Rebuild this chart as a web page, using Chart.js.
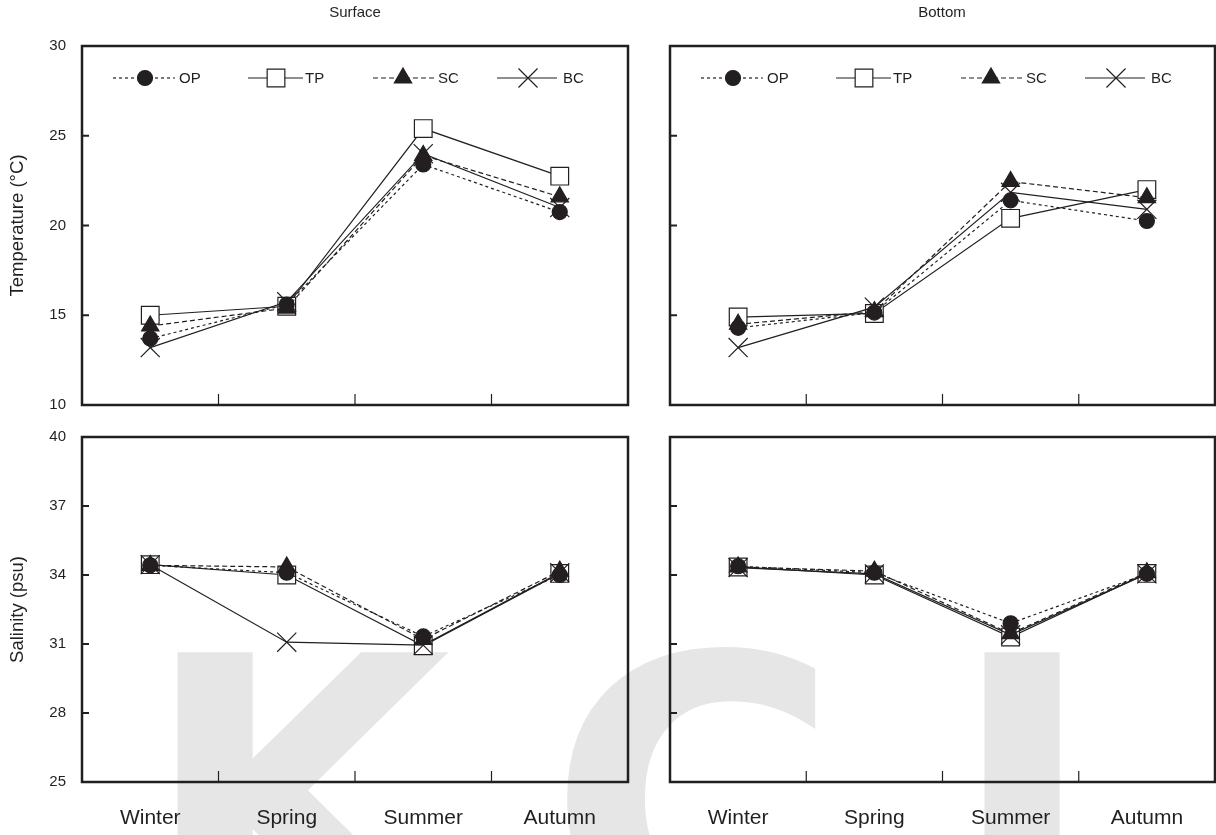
<!DOCTYPE html>
<html>
<head>
<meta charset="utf-8">
<script src="https://cdn.jsdelivr.net/npm/chart.js@4.4.1/dist/chart.umd.min.js"></script>
<style>
html,body{margin:0;padding:0;background:#fff;overflow:hidden}
#wrap{position:relative;width:1216px;height:835px;overflow:hidden;background:#fff}
#wrap canvas{position:absolute;left:0;top:0}
.ptitle{position:absolute;top:3px;font-family:"Liberation Sans",Arial,sans-serif;font-size:15px;line-height:18px;color:#231f20;transform:translateX(-50%);white-space:nowrap}
</style>
</head>
<body>
<div id="wrap">
  <canvas id="cTL" width="1216" height="835"></canvas>
  <canvas id="cTR" width="1216" height="835"></canvas>
  <canvas id="cBL" width="1216" height="835"></canvas>
  <canvas id="cBR" width="1216" height="835"></canvas>
  <div class="ptitle" style="left:355px">Surface</div>
  <div class="ptitle" style="left:942px">Bottom</div>
</div>
<script>
// ---------- data ----------
const seasons = ['Winter', 'Spring', 'Summer', 'Autumn'];
const seriesNames = ['OP', 'TP', 'SC', 'BC'];
const tempTicks = [10, 15, 20, 25, 30];
const salTicks = [25, 28, 31, 34, 37, 40];

const surfTempOP = [13.7, 15.6, 23.4, 20.75];
const surfTempTP = [15.0, 15.5, 25.4, 22.75];
const surfTempSC = [14.4, 15.4, 23.9, 21.6];
const surfTempBC = [13.2, 15.75, 24.0, 21.0];

const botTempOP = [14.3, 15.15, 21.4, 20.25];
const botTempTP = [14.9, 15.1, 20.4, 22.0];
const botTempSC = [14.5, 15.2, 22.45, 21.55];
const botTempBC = [13.2, 15.45, 21.85, 20.9];

const surfSalOP = [34.42, 34.1, 31.33, 34.0];
const surfSalTP = [34.45, 34.0, 30.92, 34.07];
const surfSalSC = [34.42, 34.35, 31.2, 34.17];
const surfSalBC = [34.45, 31.08, 30.95, 34.1];

const botSalOP = [34.38, 34.1, 31.9, 34.05];
const botSalTP = [34.35, 34.0, 31.3, 34.07];
const botSalSC = [34.35, 34.17, 31.45, 34.1];
const botSalBC = [34.32, 34.05, 31.4, 34.05];

// ---------- styles ----------
const INK = '#231f20';
const FONT = '"Liberation Sans", Arial, sans-serif';
const seriesStyle = [
  {dash: [3, 3], pointStyle: 'circle', radius: 7.5, fill: INK, order: 0},
  {dash: [], pointStyle: 'rect', radius: 12.5, fill: '#ffffff', order: 3},
  {dash: [5, 3], pointStyle: 'triangle', radius: 10, fill: INK, order: 1},
  {dash: [], pointStyle: 'crossRot', radius: 13.5, fill: INK, order: 2}
];
const legendSlots = [
  {l: 31, r: 93, m: 63, t: 97},
  {l: 166, r: 221, m: 194, t: 223},
  {l: 291, r: 352, m: 321, t: 356},
  {l: 415, r: 475, m: 446, t: 481}
];
const X_AXIS_H = 53;

function drawMarker(ctx, st, x, y) {
  ctx.save();
  ctx.setLineDash([]);
  ctx.fillStyle = st.fill;
  ctx.strokeStyle = INK;
  ctx.lineWidth = 1.2;
  Chart.helpers.drawPoint(ctx, {pointStyle: st.pointStyle, radius: st.radius, rotation: 0, borderWidth: 1.2}, x, y);
  ctx.restore();
}

const framePlugin = {
  id: 'frame',
  afterDraw(chart) {
    const {ctx, chartArea: a, scales: {x, y}} = chart;
    ctx.save();
    ctx.setLineDash([]);
    ctx.strokeStyle = INK;
    ctx.lineWidth = 2;
    y.ticks.forEach(t => {
      const py = y.getPixelForValue(t.value);
      if (py > a.top + 2 && py < a.bottom - 2) {
        ctx.beginPath(); ctx.moveTo(a.left, py); ctx.lineTo(a.left + 7, py); ctx.stroke();
      }
    });
    ctx.lineWidth = 1.2;
    for (let i = 0; i < seasons.length - 1; i++) {
      const px = (x.getPixelForValue(i) + x.getPixelForValue(i + 1)) / 2;
      ctx.beginPath(); ctx.moveTo(px, a.bottom); ctx.lineTo(px, a.bottom - 11); ctx.stroke();
    }
    ctx.lineWidth = 2.5;
    ctx.strokeRect(a.left, a.top, a.right - a.left, a.bottom - a.top);
    ctx.restore();
  }
};

function makeLegendPlugin(show) {
  return {
    id: 'panelLegend',
    afterDraw(chart) {
      if (!show) return;
      const {ctx, chartArea: a} = chart;
      const cy = a.top + 32;
      ctx.save();
      seriesNames.forEach((name, i) => {
        const st = seriesStyle[i], s = legendSlots[i];
        ctx.strokeStyle = INK; ctx.lineWidth = 1.2; ctx.setLineDash(st.dash);
        ctx.beginPath(); ctx.moveTo(a.left + s.l, cy); ctx.lineTo(a.left + s.r, cy); ctx.stroke();
        drawMarker(ctx, st, a.left + s.m, cy);
        ctx.fillStyle = INK; ctx.font = '15px ' + FONT; ctx.textBaseline = 'middle'; ctx.textAlign = 'left';
        ctx.fillText(name, a.left + s.t, cy + 1);
      });
      ctx.restore();
    }
  };
}

const watermarkPlugin = {
  id: 'watermark',
  beforeDraw(chart) {
    const ctx = chart.ctx;
    ctx.save();
    ctx.fillStyle = '#e6e6e6';
    ctx.font = 'bold 400px "DejaVu Sans"';
    ctx.textBaseline = 'alphabetic';
    ctx.textAlign = 'left';
    const capTop = 650;
    const base = capTop + ctx.measureText('K').actualBoundingBoxAscent;
    [['K', 172], ['C', 566], ['I', 979]].forEach(([ch, left]) => {
      const m = ctx.measureText(ch);
      ctx.fillText(ch, left + m.actualBoundingBoxLeft, base);
    });
    ctx.restore();
  }
};

function makeChart(id, area, tickVals, series, opts) {
  const datasets = series.map((d, i) => {
    const st = seriesStyle[i];
    return {
      label: seriesNames[i], data: d,
      borderColor: INK, borderWidth: 1.2, borderDash: st.dash,
      pointStyle: st.pointStyle, pointRadius: st.radius, pointHoverRadius: st.radius,
      pointBackgroundColor: st.fill, pointBorderColor: INK, pointBorderWidth: 1.2,
      order: st.order, tension: 0, fill: false, clip: false
    };
  });
  const plugins = [framePlugin, makeLegendPlugin(opts.legend)];
  if (opts.watermark) plugins.unshift(watermarkPlugin);
  const xH = opts.xLabels ? X_AXIS_H : 0;
  return new Chart(document.getElementById(id), {
    type: 'line',
    data: {labels: seasons, datasets},
    options: {
      responsive: false, animation: false, events: [], devicePixelRatio: 1,
      layout: {autoPadding: false, padding: {left: area.left - 82, top: area.top, right: 1216 - area.right, bottom: 835 - area.bottom - xH}},
      plugins: {legend: {display: false}, tooltip: {enabled: false}, title: {display: false}},
      scales: {
        x: {
          type: 'category', offset: true,
          grid: {display: false, drawTicks: false}, border: {display: false},
          ticks: {display: opts.xLabels, font: {family: FONT, size: 21}, color: INK, padding: 24, maxRotation: 0, minRotation: 0, autoSkip: false},
          afterFit(s) { s.height = xH; s.paddingLeft = 0; s.paddingRight = 0; }
        },
        y: {
          type: 'linear', min: tickVals[0], max: tickVals[tickVals.length - 1],
          grid: {display: false, drawTicks: false}, border: {display: false},
          afterBuildTicks(s) { s.ticks = tickVals.map(v => ({value: v})); },
          ticks: {display: opts.yLabels, font: {family: FONT, size: 15}, color: INK, padding: 16},
          title: {display: !!opts.yTitle, text: opts.yTitle || '', font: {family: FONT, size: 18.5}, color: INK, padding: {top: 7, bottom: 0}},
          afterFit(s) { s.width = 82; s.paddingTop = 0; s.paddingBottom = 0; }
        }
      }
    },
    plugins
  });
}

makeChart('cTL', {left: 82, top: 46, right: 628, bottom: 405}, tempTicks,
  [surfTempOP, surfTempTP, surfTempSC, surfTempBC],
  {legend: true, xLabels: false, yLabels: true, yTitle: 'Temperature (°C)', watermark: true});
makeChart('cTR', {left: 670, top: 46, right: 1215, bottom: 405}, tempTicks,
  [botTempOP, botTempTP, botTempSC, botTempBC],
  {legend: true, xLabels: false, yLabels: false});
makeChart('cBL', {left: 82, top: 437, right: 628, bottom: 782}, salTicks,
  [surfSalOP, surfSalTP, surfSalSC, surfSalBC],
  {legend: false, xLabels: true, yLabels: true, yTitle: 'Salinity (psu)'});
makeChart('cBR', {left: 670, top: 437, right: 1215, bottom: 782}, salTicks,
  [botSalOP, botSalTP, botSalSC, botSalBC],
  {legend: false, xLabels: true, yLabels: false});
</script>
</body>
</html>
